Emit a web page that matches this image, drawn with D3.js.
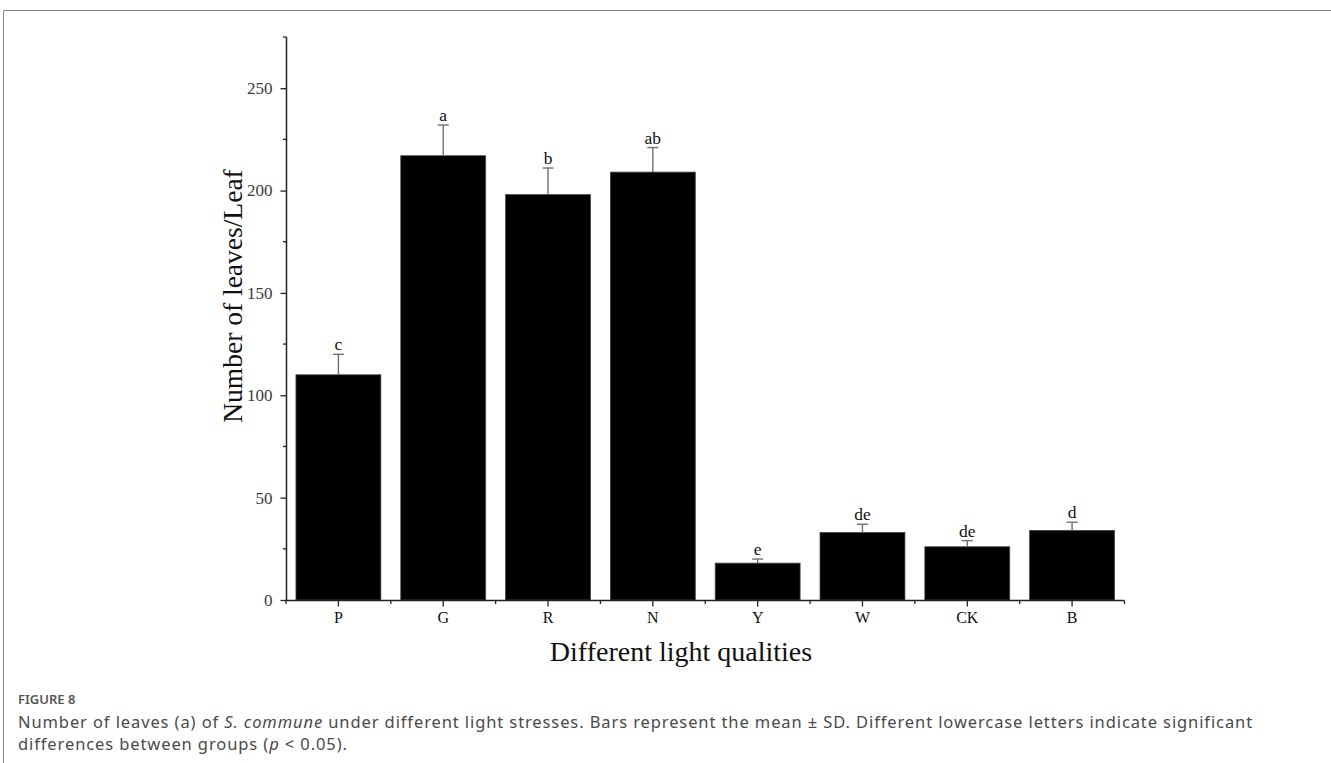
<!DOCTYPE html>
<html><head><meta charset="utf-8">
<script src="https://cdn.jsdelivr.net/npm/d3@7/dist/d3.min.js"></script>
<style>
html,body{margin:0;padding:0;background:#fff;}
svg{display:block;}
</style></head>
<body>
<svg id="chart" width="1331" height="763"></svg>
<script>
const categories = ["P","G","R","N","Y","W","CK","B"];
const means = [110, 217, 198, 209, 18, 33, 26, 34];
const sds = [10, 15, 13, 12, 2, 4, 3, 4];
const letters = ["c","a","b","ab","e","de","de","d"];
const yTicks = [0, 50, 100, 150, 200, 250];
const yMinorTicks = [25, 75, 125, 175, 225, 275];

const svg = d3.select("#chart");
const serif = "'Liberation Serif','Times New Roman',serif";
const sans = "'Noto Sans','Open Sans',sans-serif";

// frame
svg.append("line").attr("x1",3.5).attr("x2",1331).attr("y1",10.5).attr("y2",10.5).attr("stroke","#8a8a8a").attr("stroke-width",1);
svg.append("line").attr("x1",3.5).attr("x2",3.5).attr("y1",10.5).attr("y2",763).attr("stroke","#8a8a8a").attr("stroke-width",1);

const x = d3.scaleBand().domain(categories).range([286, 1124.5]).paddingInner(0.19).paddingOuter(0.095);
const y = d3.scaleLinear().domain([0, 275]).range([600, 37]);

// bars
svg.append("g").selectAll("rect").data(categories).join("rect")
  .attr("x", d => x(d))
  .attr("width", x.bandwidth())
  .attr("y", (d,i) => y(means[i]))
  .attr("height", (d,i) => y(0) - y(means[i]))
  .attr("fill", "#000")
  .attr("stroke", "#444").attr("stroke-width", 0.8);

// error bars
const eb = svg.append("g").attr("stroke","#707070").attr("stroke-width",1.4);
categories.forEach((c,i) => {
  const cx = x(c) + x.bandwidth()/2;
  eb.append("line").attr("x1",cx).attr("x2",cx).attr("y1",y(means[i])).attr("y2",y(means[i]+sds[i]));
  eb.append("line").attr("x1",cx-5.5).attr("x2",cx+5.5).attr("y1",y(means[i]+sds[i])).attr("y2",y(means[i]+sds[i]));
});

// letters
svg.append("g").selectAll("text").data(categories).join("text")
  .attr("x", d => x(d) + x.bandwidth()/2)
  .attr("y", (d,i) => y(means[i]+sds[i]) - 4)
  .attr("text-anchor","middle")
  .attr("font-family", serif).attr("font-size", 17.5).attr("fill","#111")
  .text((d,i) => letters[i]);

// y axis
const yAxis = d3.axisLeft(y).tickValues(yTicks).tickSize(6).tickPadding(8).tickFormat(d3.format("d"));
const gy = svg.append("g").attr("transform","translate(286.5,0)").call(yAxis);
gy.select(".domain").attr("stroke","#222").attr("stroke-width",1.5).attr("d","M0,"+y(275)+"V"+y(0));
gy.selectAll(".tick line").attr("stroke","#222").attr("stroke-width",1.3);
gy.selectAll(".tick text").attr("font-family", serif).attr("font-size",17).attr("fill","#3a3a3a");
const gyMinor = svg.append("g").attr("transform","translate(286.5,0)");
gyMinor.selectAll("line").data(yMinorTicks).join("line")
  .attr("x1",-3.5).attr("x2",0).attr("y1",d=>y(d)).attr("y2",d=>y(d))
  .attr("stroke","#222").attr("stroke-width",1.3);

// x axis
const xAxis = d3.axisBottom(x).tickSize(6).tickPadding(5);
const gx = svg.append("g").attr("transform","translate(0,600.5)").call(xAxis);
gx.select(".domain").attr("stroke","#222").attr("stroke-width",1.5).attr("d","M286,0H1124.5");
gx.selectAll(".tick line").attr("stroke","#222").attr("stroke-width",1.3);
gx.selectAll(".tick text").attr("font-family", serif).attr("font-size",16).attr("fill","#111");
const boundaries = categories.map(c => x(c) - x.step()*x.paddingInner()/2).concat([1124.5]);
gx.append("g").selectAll("line").data(boundaries).join("line")
  .attr("x1",d=>d).attr("x2",d=>d).attr("y1",0).attr("y2",3.5)
  .attr("stroke","#222").attr("stroke-width",1.3);

// axis titles
svg.append("text").attr("x",681).attr("y",661).attr("text-anchor","middle")
  .attr("font-family", serif).attr("font-size",28).attr("fill","#111")
  .text("Different light qualities");
svg.append("text").attr("transform","translate(242,296) rotate(-90)").attr("text-anchor","middle")
  .attr("font-family", serif).attr("font-size",27.5).attr("fill","#111")
  .text("Number of leaves/Leaf");

// caption
svg.append("text").attr("x",18).attr("y",704)
  .attr("font-family", sans).attr("font-size",13).attr("fill","#555").attr("font-weight",600)
  .text("FIGURE 8");
const cap1 = svg.append("text").attr("x",18).attr("y",728)
  .attr("font-family", sans).attr("font-size",16.5).attr("fill","#4a4a4a");
cap1.append("tspan").text("Number of leaves (a) of ");
cap1.append("tspan").attr("font-style","italic").text("S. commune");
cap1.append("tspan").text(" under different light stresses. Bars represent the mean ± SD. Different lowercase letters indicate significant");
const cap2 = svg.append("text").attr("x",18).attr("y",750)
  .attr("font-family", sans).attr("font-size",16.5).attr("fill","#4a4a4a");
cap2.append("tspan").text("differences between groups (");
cap2.append("tspan").attr("font-style","italic").text("p");
cap2.append("tspan").text(" < 0.05).");
// widen caption spacing to match the reference's wide typeface
const w1 = cap1.node().getComputedTextLength();
const n1 = cap1.text().length;
const ls = Math.max(0, (1235 - w1) / n1);
cap1.attr("letter-spacing", ls);
cap2.attr("letter-spacing", ls);
</script>
</body></html>
